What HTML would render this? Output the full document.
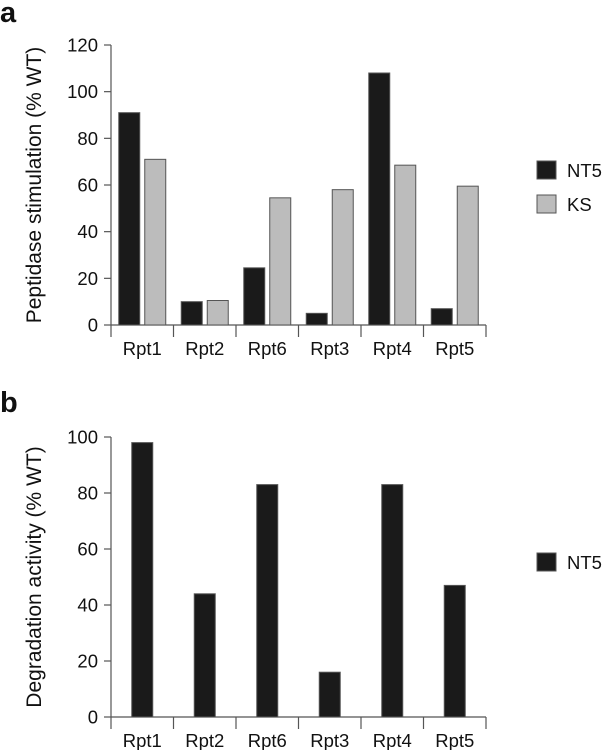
<!DOCTYPE html>
<html><head><meta charset="utf-8"><style>
body{margin:0;background:#fff;}
svg{display:block;font-family:"Liberation Sans",Arial,sans-serif;}
</style></head><body>
<svg id="chart" width="602" height="750">
<text x="0" y="22" font-size="29" font-weight="bold" fill="#111">a</text>
<text x="0" y="412" font-size="29" font-weight="bold" fill="#111">b</text>
<g id="pa"></g>
<g id="pb"></g>
</svg>
<script>
const categories=["Rpt1","Rpt2","Rpt6","Rpt3","Rpt4","Rpt5"];
const aNT5=[91,10,24.5,5,108,7];
const aKS=[71,10.5,54.5,58,68.5,59.5];
const aTicks=[0,20,40,60,80,100,120];
const bNT5=[98,44,83,16,83,47];
const bTicks=[0,20,40,60,80,100];
const NS="http://www.w3.org/2000/svg";
function mk(p,t,at){const e=document.createElementNS(NS,t);for(const k in at)e.setAttribute(k,at[k]);p.appendChild(e);return e;}
function panel(g,ticks,ymax,y0,ytop,series,colors,names,ylabel,legY){
  const x0=111,x1=486,bw=(x1-x0)/categories.length;
  const ys=v=>y0-(v/ymax)*(y0-ytop);
  const ax=mk(g,'line',{x1:x0,y1:ys(ymax),x2:x0,y2:y0,stroke:'#555','stroke-width':1.2});
  
  const bx=mk(g,'line',{x1:x0,y1:y0,x2:x1,y2:y0,stroke:'#555','stroke-width':1.2});
  
  ticks.forEach(t=>{
    mk(g,'line',{x1:x0-7,y1:ys(t),x2:x0,y2:ys(t),stroke:'#555','stroke-width':1.2});
    const tl=mk(g,'text',{x:x0-13,y:ys(t)+6.5,'font-size':18.5,'text-anchor':'end',fill:'#111'});
    tl.textContent=t;
  });
  for(let i=0;i<=categories.length;i++){mk(g,'line',{x1:x0+i*bw,y1:y0,x2:x0+i*bw,y2:y0+12,stroke:'#555','stroke-width':1.2});}
  categories.forEach((c,i)=>{
    const cl=mk(g,'text',{x:x0+(i+0.5)*bw,y:y0+30,'font-size':18.5,'text-anchor':'middle',fill:'#111'});
    cl.textContent=c;
    const w=21,gap=5,tot=series.length*w+(series.length-1)*gap;
    const start=x0+i*bw+(bw-tot)/2;
    series.forEach((s,j)=>{
      const r=mk(g,'rect',{x:start+j*(w+gap),y:ys(s[i]),width:w,height:y0-ys(s[i]),fill:colors[j],stroke:'#555','stroke-width':1});
      
      
    });
  });
  const yl=mk(g,'text',{x:0,y:0,'font-size':21,'text-anchor':'middle',fill:'#111',transform:`translate(41,${(y0+ytop)/2}) rotate(-90)`});
  yl.textContent=ylabel;
  names.forEach((n,j)=>{
    const r=mk(g,'rect',{x:537,y:legY+j*34,width:19,height:18,fill:colors[j],stroke:'#555','stroke-width':1});
    
    const t=mk(g,'text',{x:567,y:legY+j*34+16,'font-size':18.5,fill:'#111'});
    t.textContent=n;
  });
}
panel(document.getElementById('pa'),aTicks,120,325,45,[aNT5,aKS],['#1a1a1a','#bcbcbc'],['NT5','KS'],'Peptidase stimulation (% WT)',161);
panel(document.getElementById('pb'),bTicks,100,717,437,[bNT5],['#1a1a1a'],['NT5'],'Degradation activity (% WT)',553);
</script>
</body></html>
